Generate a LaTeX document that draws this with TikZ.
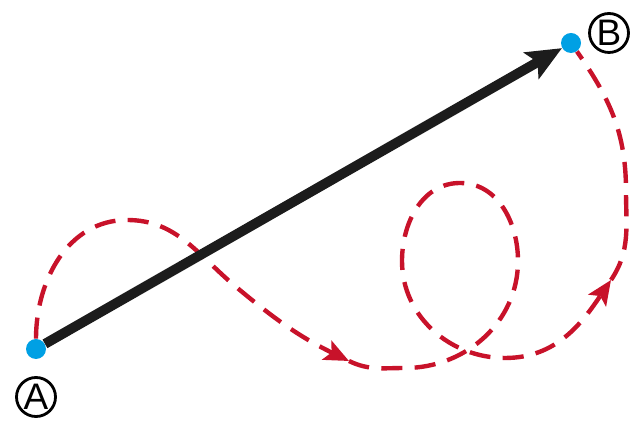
\documentclass[tikz,border=0pt]{standalone}
\usepackage{fontspec}
\newfontfamily\labelfont{Liberation Sans}
\usetikzlibrary{arrows.meta}

\definecolor{dotblue}{RGB}{0,160,228}
\definecolor{pathred}{RGB}{200,18,42}
\definecolor{vecblack}{RGB}{28,28,28}

\begin{document}
\begin{tikzpicture}[
    x=0.02cm, y=0.02cm,
    dot/.style={circle, fill=dotblue, inner sep=0pt, minimum size=0.4cm},
    ptlabel/.style={circle, draw, line width=1.6pt, inner sep=0pt, minimum size=0.78cm, font=\labelfont\fontsize{21}{24}\selectfont},
    vector/.style={vecblack, line width=5.6pt, -{Stealth[length=20pt, width=17pt, inset=4pt]}},
    route/.style={pathred, line width=2.5pt, dash pattern=on 12pt off 7pt},
    routetip/.style={route, -{Stealth[length=14pt, width=12pt, inset=3pt]}},
]

\useasboundingbox (0,0) rectangle (638,421);

% End points and their labels
\node[dot] (A) at (36,72) {};
\node[dot] (B) at (571,378) {};
\node[ptlabel] (la) at (36,24) {A};
\node[ptlabel] (lb) at (609,388) {B};

% Points on the dashed route
\coordinate (top1) at (127,201);
\coordinate (mid1) at (235,135);
\coordinate (tip1) at (349,60);
\coordinate (low1) at (405,53);
\coordinate (loopr) at (518,160);
\coordinate (loopt) at (460,238);
\coordinate (loopl) at (402,160);
\coordinate (low2) at (505,63);
\coordinate (tip2) at (611,141);
\coordinate (rise) at (626,230);

% Dashed route, in three pieces
\draw[routetip] (A.north) to[out=90, in=180] (top1) to[out=0, in=140] (mid1)
    to[out=-40, in=154] (tip1);
\draw[routetip] (tip1) to[out=-26, in=180] (low1) to[out=0, in=-90] (loopr)
    to[out=90, in=0] (loopt) to[out=180, in=90] (loopl)
    to[out=-90, in=180] (low2) to[out=0, in=-124] (tip2);
\draw[route] (tip2) to[out=56, in=-90] (rise) to[out=90, in=-55] (B);

% Straight displacement
\draw[vector] (A) -- (B);

\end{tikzpicture}
\end{document}
